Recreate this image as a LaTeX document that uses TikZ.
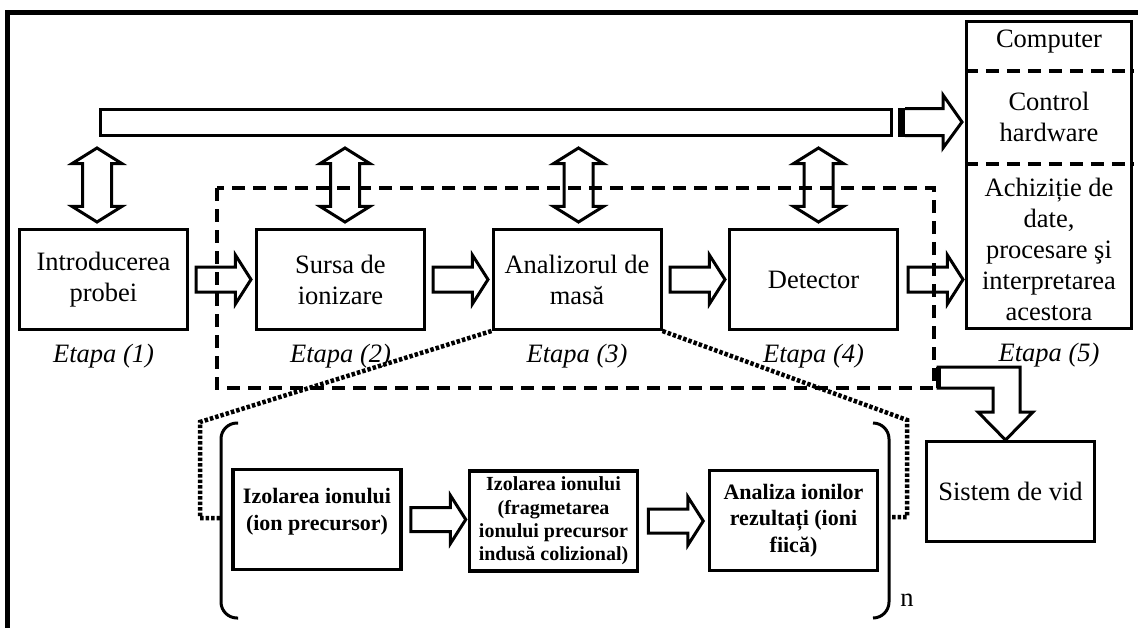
\documentclass[tikz,border=0pt]{standalone}
\usepackage{fontspec}
\setmainfont{Liberation Serif}
\usetikzlibrary{shapes.arrows,calc}
\begin{document}
\begin{tikzpicture}[x=1pt,y=-1pt,
  txt/.style={font=\fontsize{26.5}{31}\selectfont,align=center,inner sep=0pt},
  box/.style={draw,line width=3pt,minimum width=168pt,minimum height=100pt,txt},
  lbox/.style={draw,line width=3.5pt,minimum width=168pt,minimum height=100pt,align=center,inner sep=0pt,font=\bfseries\fontsize{22}{26.5}\selectfont},
  ltxt/.style={align=center,inner sep=0pt,font=\bfseries\fontsize{22}{26.5}\selectfont},
  etapa/.style={font=\itshape\fontsize{26.5}{31}\selectfont,inner sep=0pt},
  harrow/.style={single arrow,draw,line width=3pt,minimum height=55pt,minimum width=0pt,
     inner xsep=0pt,inner ysep=11pt,single arrow head extend=12pt,single arrow tip angle=115,anchor=tail},
  varrow/.style={double arrow,draw,line width=3pt,minimum height=74pt,minimum width=0pt,
     inner xsep=0pt,inner ysep=13pt,double arrow head extend=10.5pt,double arrow tip angle=116,rotate=90},
  dashline/.style={line width=4pt,dash pattern=on 13pt off 8pt},
  dotline/.style={line width=4.5pt,dash pattern=on 3.5pt off 2pt},
  bracket/.style={line width=3pt,rounded corners=16pt}
]
\useasboundingbox (0,0) rectangle (1138,627);
\clip (0,0) rectangle (1138,627);

% outer frame
\draw[line width=4.5pt] (7.5,700) -- (7.5,12.5) -- (1200,12.5);

% bus bar
\node[draw,line width=3pt,minimum width=791pt,minimum height=26pt,inner sep=0pt] (bus) at (496,122) {};

% computer box
\node[draw,line width=3.5pt,minimum width=165pt,minimum height=307pt,inner sep=0pt] (comp) at (1049,175) {};
\draw[dashline] ($(comp.north west)+(0,51)$) -- ($(comp.north east)+(0,51)$);
\draw[dashline] ($(comp.north west)+(0,144)$) -- ($(comp.north east)+(0,144)$);
\node[txt] (c1) at (1049,42) {Computer};
\node[txt] (c2) at (1049,117) {Control\\hardware};
\node[txt] (c3) at (1049,249) {Achiziție de\\date,\\procesare şi\\interpretarea\\acestora};

% bus arrow to computer
\fill ($(bus.east)+(5,-14.5)$) rectangle ($(bus.east)+(12,14.5)$);
\coordinate (bt) at ($(bus.east)+(69,0)$);
\draw[line width=3pt] ($(bus.east)+(12,-13.5)$) -- ($(bus.east)+(50,-13.5)$) -- ($(bus.east)+(50,-27)$)
   -- (bt) -- ($(bus.east)+(50,26)$) -- ($(bus.east)+(50,13.5)$) -- ($(bus.east)+(12,13.5)$);

% dashed frame
\draw[dashline] (217,188) rectangle (934,388);

% main boxes
\node[box] (b1) at (103.5,279.5) {Introducerea\\probei};
\node[box] (b2) at (340.5,279.5) {Sursa de\\ionizare};
\node[box] (b3) at (577,279.5) {Analizorul de\\masă};
\node[box] (b4) at (813.5,279.5) {Detector};

\node[etapa] (e1) at ($(b1.south)+(0,25)$) {Etapa (1)};
\node[etapa] (e2) at ($(b2.south)+(0,25)$) {Etapa (2)};
\node[etapa] (e3) at ($(b3.south)+(0,25)$) {Etapa (3)};
\node[etapa] (e4) at ($(b4.south)+(0,25)$) {Etapa (4)};
\node[etapa] (e5) at ($(comp.south)+(0,25)$) {Etapa (5)};

% horizontal arrows
\node[harrow] (a1) at ($(b1.east)+(5.5,0)$) {};
\node[harrow] (a2) at ($(b2.east)+(5.5,0)$) {};
\node[harrow] (a3) at ($(b3.east)+(6,0)$) {};
\node[harrow] (a4) at ($(b4.east)+(7.5,0)$) {};

% vertical double arrows
\node[varrow] (v1) at (97,185) {};
\node[varrow] (v2) at (345,185) {};
\node[varrow] (v3) at (578.5,185) {};
\node[varrow] (v4) at (818.5,185) {};

% lower boxes
\node[lbox] (l1) at (317,519.5) {};
\node[ltxt] (l1t) at ($(l1.center)+(0,-8)$) {Izolarea ionului\\(ion precursor)};
\node[lbox,font=\bfseries\fontsize{20}{23.3}\selectfont] (l2) at (553.5,521) {Izolarea ionului\\(fragmetarea\\ionului precursor\\indusă colizional)};
\node[lbox] (l3) at (793.5,520.5) {Analiza ionilor\\rezultați (ioni\\fiică)};
\node[harrow,inner ysep=10.5pt] (la1) at ($(l1.east)+(6.5,0)$) {};
\node[harrow,inner ysep=10.5pt] (la2) at ($(l2.east)+(7.5,0)$) {};

% brackets
\draw[bracket] (238,423) -- (221,423) -- (221,618) -- (238,618);
\draw[bracket] (873,423) -- (889,423) -- (889,618) -- (873,618);
\coordinate (lb) at (221,518);
\coordinate (rb) at (889,517);
\node[txt] (nn) at (907,600) {n};

% dotted zoom lines
\draw[dotline] (b3.south west) -- (200,422) -- (200,518) -- (lb);
\draw[dotline] (b3.south east) -- (907,420) -- (907,517) -- (rb);

% vacuum system
\node[box] (sv) at (1010.5,491.5) {Sistem de vid};
\draw[line width=3pt] (938,367) -- (1020,367) -- (1020,412) -- (1033,412) -- (sv.north -| 1005.5,0)
  -- (978,412) -- (993,412) -- (993,388) -- (938,388) -- cycle;
\draw[line width=5pt] (938,367) -- (938,388);
\end{tikzpicture}
\end{document}
